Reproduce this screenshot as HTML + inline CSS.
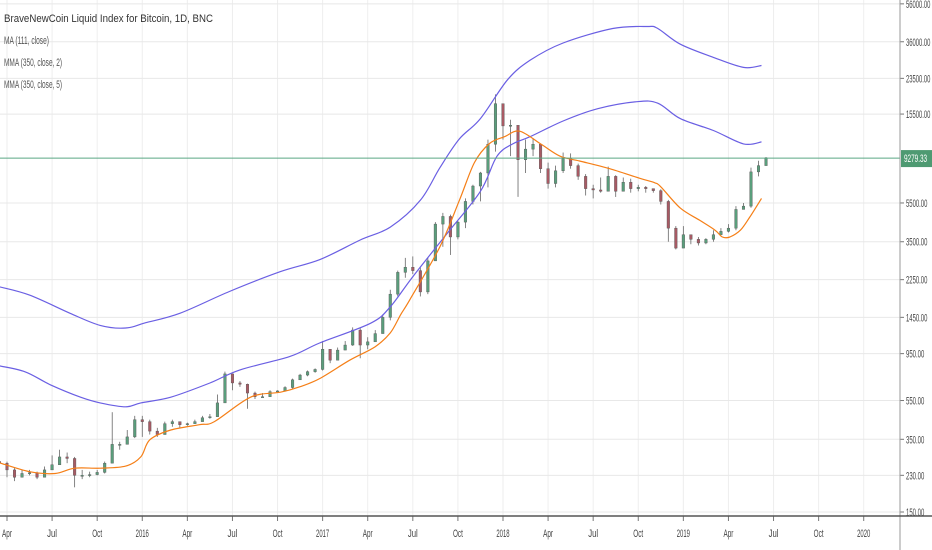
<!DOCTYPE html>
<html><head><meta charset="utf-8">
<style>
html,body{margin:0;padding:0;background:#fff;}
svg{display:block;font-family:"Liberation Sans",sans-serif;}
</style></head>
<body>
<svg id="chart" width="932" height="550" viewBox="0 0 932 550">
<g id="grid"></g>
<g id="candles"></g>
<g id="lines"></g>
<g id="axes"></g>
<g font-size="11" fill="#555">
<text x="4" y="22" fill="#333" textLength="209" lengthAdjust="spacingAndGlyphs">BraveNewCoin Liquid Index for Bitcoin, 1D, BNC</text>
<text x="4" y="44" textLength="45" lengthAdjust="spacingAndGlyphs">MA (111, close)</text>
<text x="4" y="66" textLength="58" lengthAdjust="spacingAndGlyphs">MMA (350, close, 2)</text>
<text x="4" y="88" textLength="58" lengthAdjust="spacingAndGlyphs">MMA (350, close, 5)</text>
</g>
</svg>
<script>
// months from Apr 2015 (t=0)
const yTicks=[56000,36000,23500,15500,5500,3500,2250,1450,950,550,350,230,150];
const xTickLabels=["Apr","Jul","Oct","2016","Apr","Jul","Oct","2017","Apr","Jul","Oct","2018","Apr","Jul","Oct","2019","Apr","Jul","Oct","2020"];
const lastPrice=9279.33;
// half-month closes starting mid-Mar 2015
const closes=[265,245,225,235,237,225,245,260,285,280,230,230,232,238,265,330,330,360,440,
430,385,370,420,430,415,420,430,450,455,535,750,675,665,600,575,575,610,615,640,700,740,770,790,
1000,880,990,1050,1250,1050,1090,1200,1450,1900,2450,2600,2500,1950,2800,4300,4700,3700,4400,5600,6700,7800,10900,17500,
13500,13600,9100,10300,10900,8200,6900,8000,9200,8500,7500,6500,6400,6300,7500,6300,7000,6500,6600,6500,6350,5600,4100,3250,
3800,3600,3450,3600,3800,3950,4100,5100,5300,7900,8500,9300];
const highs=[290,270,250,245,245,240,255,290,310,300,285,245,240,245,270,480,340,390,460,
460,440,400,430,440,420,425,440,460,470,590,770,700,690,670,610,600,620,620,650,710,750,780,800,
1100,1000,1020,1100,1290,1280,1150,1250,1500,2000,2500,2900,2950,2600,2900,4400,4900,4800,4450,5800,6800,7900,11500,19500,
17000,14500,13000,11500,11700,11000,8800,8500,9900,9800,8700,7700,6800,7400,8400,7600,7400,7300,6800,6700,6500,6450,5700,4200,
4200,3800,3700,3650,4000,4100,4300,5300,5500,8300,9000,9400];
const lows=[245,225,215,225,230,220,225,250,260,265,200,220,225,230,235,310,310,330,355,
360,370,360,370,405,400,410,420,430,445,520,640,620,645,500,560,570,600,605,610,630,700,730,760,
780,850,900,1000,1040,900,1000,1100,1200,1400,1850,2300,2400,1850,1900,2800,3300,3000,3600,4100,5400,5600,6600,10000,
11500,9500,5900,7800,9500,7800,6500,6600,7800,8200,7200,6000,5800,6200,7100,5900,6300,6200,6300,6200,6200,5400,3500,3200,
3300,3400,3350,3400,3500,3800,3900,4000,5100,5200,7500,8600];
const ma111T=[-0.5,1.5,3.2,4.5,6.2,7.9,8.9,9.5,10.9,12.8,13.8,16.2,18.2,19.5,20.8,22.8,24.5,25.5,26.2,26.8,28.8,30.1,31.1,32.1,33.1,34.1,35.5,36.8,38.1,40.1,42.1,43.1,43.5,44.8,46.1,47.1,47.6,48.1,48.8,49.4,50.2];
const ma111V=[266,240,235,250,250,256,285,348,390,415,430,572,606,646,710,880,1030,1210,1500,1780,3300,5670,8800,11000,11900,12700,10950,9490,8970,8200,7330,6960,6640,5180,4490,4010,3700,3700,4010,4640,5800];
const mma2T=[-0.5,1.2,2.9,4.9,6.2,7.9,8.9,10.9,13.5,15.5,18.8,20.8,24.2,25.5,27.0,29.3,31.5,32.6,33.7,34.8,37.0,39.3,41.9,43.3,44.8,47.0,49.0,50.2];
const mma2V=[823,769,660,572,535,511,535,572,675,786,918,1075,1355,1640,2330,3870,6300,9490,11000,11900,14300,16500,17900,17600,14700,12800,10950,11200];
const mma5T=[-0.5,1.5,4.2,6.2,7.9,9.2,11.5,14.8,18.2,20.8,23.5,25.5,27.5,28.8,30.1,31.5,33.3,34.8,37.0,40.3,42.6,43.3,44.8,47.0,49.0,50.2];
const mma5V=[2070,1880,1520,1320,1280,1360,1520,1960,2470,2840,3570,4150,5670,8300,11600,14700,23100,29000,35500,42000,43000,42000,35000,30000,26700,27300];

const NS='http://www.w3.org/2000/svg';
const PR=900, Y0=512, K=85.8;
function yS(v){return Y0-K*Math.log(v/150);}
function xS(t){return 7+15.03*t;}
function mk(tag,attrs,parent){const e=document.createElementNS(NS,tag);for(const k in attrs)e.setAttribute(k,attrs[k]);parent.appendChild(e);return e;}
const grid=document.getElementById('grid'),axes=document.getElementById('axes'),cg=document.getElementById('candles'),lg=document.getElementById('lines');
for(let i=0;i<xTickLabels.length;i++){
  const x=xS(i*3);
  const l=mk('line',{x1:x,x2:x,y1:0,y2:516,stroke:'#eeeeee','stroke-width':1},grid);
  
  
  const tk=mk('line',{x1:x,x2:x,y1:516,y2:521,stroke:'#777'},axes);
  
  
  const s=xTickLabels[i];
  const tx=mk('text',{x:x,y:537,'font-size':11,fill:'#444','text-anchor':'middle',textLength:s.length*3.3,lengthAdjust:'spacingAndGlyphs'},axes);
  tx.textContent=s;
  
  
}
yTicks.forEach(v=>{
  const y=yS(v);
  const l=mk('line',{x1:0,x2:PR,y1:y,y2:y,stroke:'#e8e8e8','stroke-width':1},grid);
  
  
  const tk=mk('line',{x1:PR,x2:PR+4,y1:y,y2:y,stroke:'#777'},axes);
  
  
  const s=v.toFixed(2);
  const tx=mk('text',{x:PR+6,y:y+4,'font-size':11,fill:'#444',textLength:s.length*3.05,lengthAdjust:'spacingAndGlyphs'},axes);
  tx.textContent=s;
  
  
});
for(let i=0;i<closes.length;i++){
  const t=-0.5+i/2, x=xS(t);
  const o=i>0?closes[i-1]:closes[0]*1.02, c=closes[i];
  const up=c>=o, col=up?'#5a9e7c':'#a85a64';
  const w=mk('line',{x1:x,x2:x,y1:yS(highs[i]),y2:yS(lows[i]),stroke:'#666','stroke-width':0.8},cg);
  
  
  const top=yS(Math.max(o,c)),bot=yS(Math.min(o,c));
  const b=mk('rect',{x:x-1.3,y:top,width:2.6,height:Math.max(1,bot-top),fill:col,stroke:'#555','stroke-width':0.4},cg);
  
  
}
function line(T,V,color,name){
  const P=T.map((t,i)=>[xS(t),yS(V[i])]);
  let d='M'+P[0][0].toFixed(1)+','+P[0][1].toFixed(1);
  for(let i=0;i<P.length-1;i++){
    const p0=P[Math.max(0,i-1)],p1=P[i],p2=P[i+1],p3=P[Math.min(P.length-1,i+2)];
    const c1=[p1[0]+(p2[0]-p0[0])/6,p1[1]+(p2[1]-p0[1])/6];
    const c2=[p2[0]-(p3[0]-p1[0])/6,p2[1]-(p3[1]-p1[1])/6];
    d+='C'+c1[0].toFixed(1)+','+c1[1].toFixed(1)+' '+c2[0].toFixed(1)+','+c2[1].toFixed(1)+' '+p2[0].toFixed(1)+','+p2[1].toFixed(1);
  }
  const p=mk('path',{d:d,fill:'none',stroke:color,'stroke-width':1.2,'stroke-linejoin':'round'},lg);
  
  
}
line(mma5T,mma5V,'#6a5fe3','mma-350-5-line');
line(mma2T,mma2V,'#6a5fe3','mma-350-2-line');
line(ma111T,ma111V,'#f57f17','ma-111-line');
const ly=yS(lastPrice);
const pl=mk('line',{x1:0,x2:PR,y1:ly,y2:ly,stroke:'#5aa884','stroke-width':1},axes);


const pb=mk('rect',{x:PR+1,y:ly-8,width:31,height:17,fill:'#4e9a72'},axes);


const ps=lastPrice.toFixed(2);
const pt=mk('text',{x:PR+4,y:ly+4,'font-size':11,fill:'#fff',textLength:ps.length*3.3,lengthAdjust:'spacingAndGlyphs'},axes);
pt.textContent=ps;


const ra=mk('line',{x1:PR,x2:PR,y1:0,y2:550,stroke:'#999','stroke-width':1},axes);


const ba=mk('line',{x1:0,x2:932,y1:516,y2:516,stroke:'#555','stroke-width':1.5},axes);


</script>
</body></html>
